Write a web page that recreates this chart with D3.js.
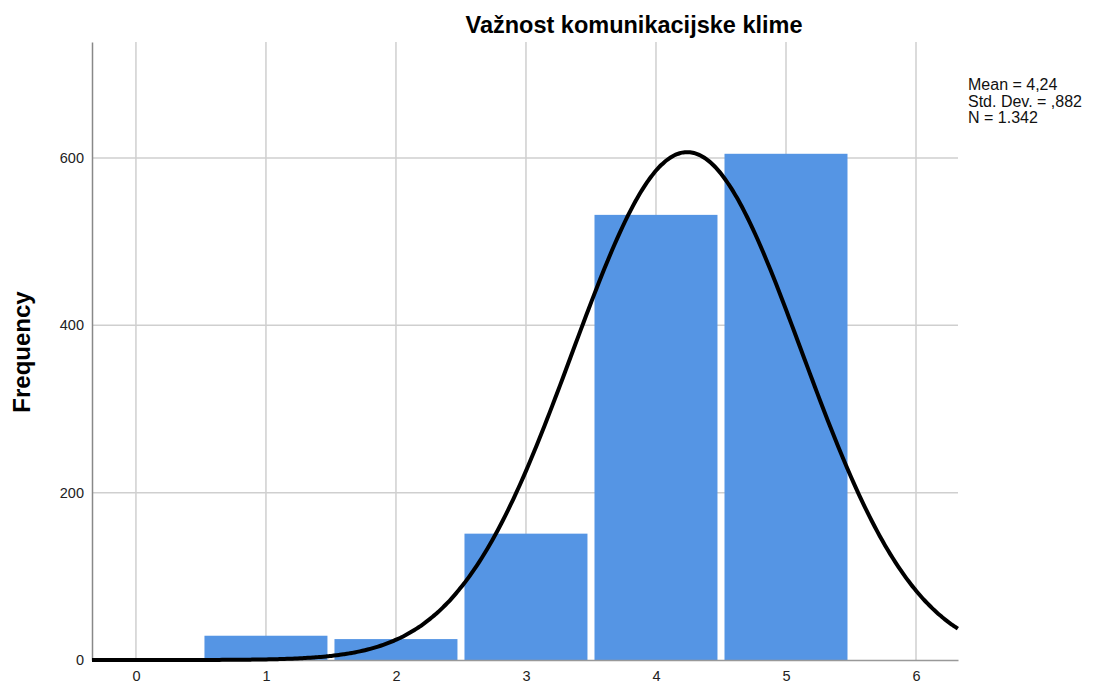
<!DOCTYPE html>
<html>
<head>
<meta charset="utf-8">
<script src="https://cdn.jsdelivr.net/npm/d3@7"></script>
<style>
  body { margin: 0; background: #fff; }
  text { font-family: "Liberation Sans", Arial, sans-serif; }
</style>
</head>
<body>
<div class="chart"></div>
<script>
// histogram data
let categories = [1, 2, 3, 4, 5];
let frequencies = [29, 25, 151, 532, 605];
let xTicks = [0, 1, 2, 3, 4, 5, 6];
let yTicks = [0, 200, 400, 600];
let statsLabels = ["Mean = 4,24", "Std. Dev. = ,882", "N = 1.342"];
let stats = [4.24, 0.882, 1342]; // mean, sd, n

let width = 1093, height = 688;
let margin = { top: 42, right: 135, bottom: 28, left: 92 };

let svg = d3.select('.chart').append('svg')
    .attr('width', width)
    .attr('height', height);

// Set the ranges
let x = d3.scaleLinear().domain([-0.338, 6.323]).range([margin.left, width - margin.right]);
let y = d3.scaleLinear().domain([0, 738.6]).range([height - margin.bottom, margin.top]);

let plotBottom = height - margin.bottom;

// vertical grid
svg.append('g')
    .selectAll('line')
    .data(xTicks)
    .enter().append('line')
    .attr('x1', d => x(d)).attr('x2', d => x(d))
    .attr('y1', margin.top).attr('y2', plotBottom)
    .attr('stroke', '#cfcfcf')
    .attr('stroke-width', 1.5);

// horizontal grid
svg.append('g')
    .selectAll('line')
    .data(yTicks.filter(d => d > 0))
    .enter().append('line')
    .attr('x1', margin.left).attr('x2', width - margin.right)
    .attr('y1', d => y(d)).attr('y2', d => y(d))
    .attr('stroke', '#cfcfcf')
    .attr('stroke-width', 1.5);

// bars
let half = 0.473;
svg.append('g')
    .selectAll('rect')
    .data(categories)
    .enter().append('rect')
    .attr('x', (d) => x(d - half))
    .attr('width', (d) => x(d + half) - x(d - half))
    .attr('y', (d, i) => y(frequencies[i]))
    .attr('height', (d, i) => plotBottom - y(frequencies[i]))
    .attr('fill', '#5595e4');

// axes
let xAxis = d3.axisBottom(x).tickValues(xTicks).tickFormat(d3.format('d')).tickSize(0).tickPadding(11);
let yAxis = d3.axisLeft(y).tickValues(yTicks).tickFormat(d3.format('d')).tickSize(0).tickPadding(8);

let gx = svg.append('g')
    .attr('transform', 'translate(0,' + plotBottom + ')')
    .call(xAxis);
gx.select('.domain').attr('stroke', '#999').attr('stroke-width', 1.5);
gx.selectAll('text').attr('font-size', 14.5).attr('fill', '#222');

let gy = svg.append('g')
    .attr('transform', 'translate(' + margin.left + ',0)')
    .call(yAxis);
gy.select('.domain').attr('stroke', '#888').attr('stroke-width', 1.5);
gy.selectAll('text').attr('font-size', 14.5).attr('fill', '#222');

// normal curve from the stated mean / sd / n
let mean = stats[0], sd = stats[1], n = stats[2];
let curveXs = d3.range(-0.338, 6.33, 0.02);
let line = d3.line()
    .x(d => x(d))
    .y(d => y(n * Math.exp(-0.5 * Math.pow((d - mean) / sd, 2)) / (sd * Math.sqrt(2 * Math.PI))))
    .curve(d3.curveBasis);
svg.append('path')
    .datum(curveXs)
    .attr('d', line)
    .attr('fill', 'none')
    .attr('stroke', '#000')
    .attr('stroke-width', 4);

// title
svg.append('text')
    .attr('x', 634)
    .attr('y', 33)
    .attr('text-anchor', 'middle')
    .attr('font-size', 23.5)
    .attr('font-weight', 'bold')
    .text('Važnost komunikacijske klime');

// y label
svg.append('text')
    .attr('text-anchor', 'middle')
    .attr('transform', 'translate(30,352)rotate(-90)')
    .attr('font-size', 24)
    .attr('font-weight', 'bold')
    .text('Frequency');

// stats box
svg.append('g')
    .selectAll('text')
    .data(statsLabels)
    .enter().append('text')
    .attr('x', 968)
    .attr('y', (d, i) => 90 + i * 16.5)
    .attr('font-size', 16)
    .attr('fill', '#111')
    .text(d => d);
</script>
</body>
</html>
